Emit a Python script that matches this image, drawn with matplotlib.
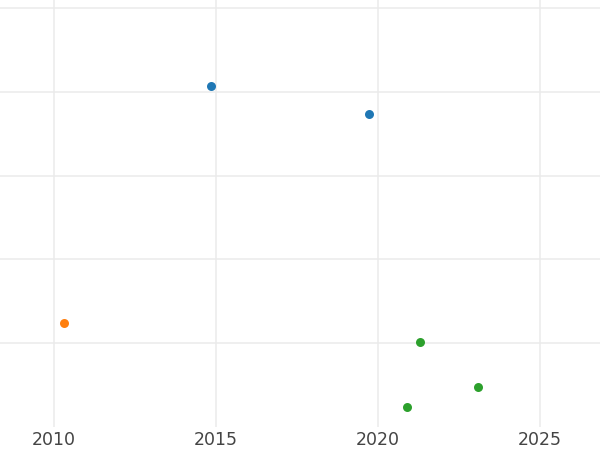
import matplotlib
matplotlib.use("Agg")
import matplotlib.pyplot as plt

series_names = ["blue", "orange", "green"]
blue_x = [2014.83, 2019.72]
blue_y = [4.07, 3.73]
orange_x = [2010.31]
orange_y = [1.24]
green_x = [2021.31, 2023.10, 2020.88]
green_y = [1.01, 0.48, 0.24]
x_ticks = [2010, 2015, 2020, 2025]
y_grid = [1, 2, 3, 4, 5]

fig = plt.figure(figsize=(6, 4.5), dpi=100)
ax = fig.add_axes([0, 1 - 427 / 450, 1, 427 / 450])
ax.set_xlim(2008.333, 2026.85)
ax.set_ylim(0, 5.095)

for x, y, c in [(blue_x, blue_y, "#1f77b4"), (orange_x, orange_y, "#ff7f0e"), (green_x, green_y, "#2ca02c")]:
    ax.scatter(x, y, s=42, color=c, zorder=3, linewidths=0)

ax.set_xticks(x_ticks)
ax.set_xticklabels([str(t) for t in x_ticks])
ax.set_yticks(y_grid)
ax.set_yticklabels([])
ax.tick_params(axis="both", length=0)
ax.tick_params(axis="x", labelsize=12.5, labelcolor="#444444", pad=3)
ax.grid(True, color="#ebebeb", linewidth=1.15)
ax.set_axisbelow(True)
for s in ax.spines.values():
    s.set_visible(False)

fig.savefig("out.png", dpi=100)
